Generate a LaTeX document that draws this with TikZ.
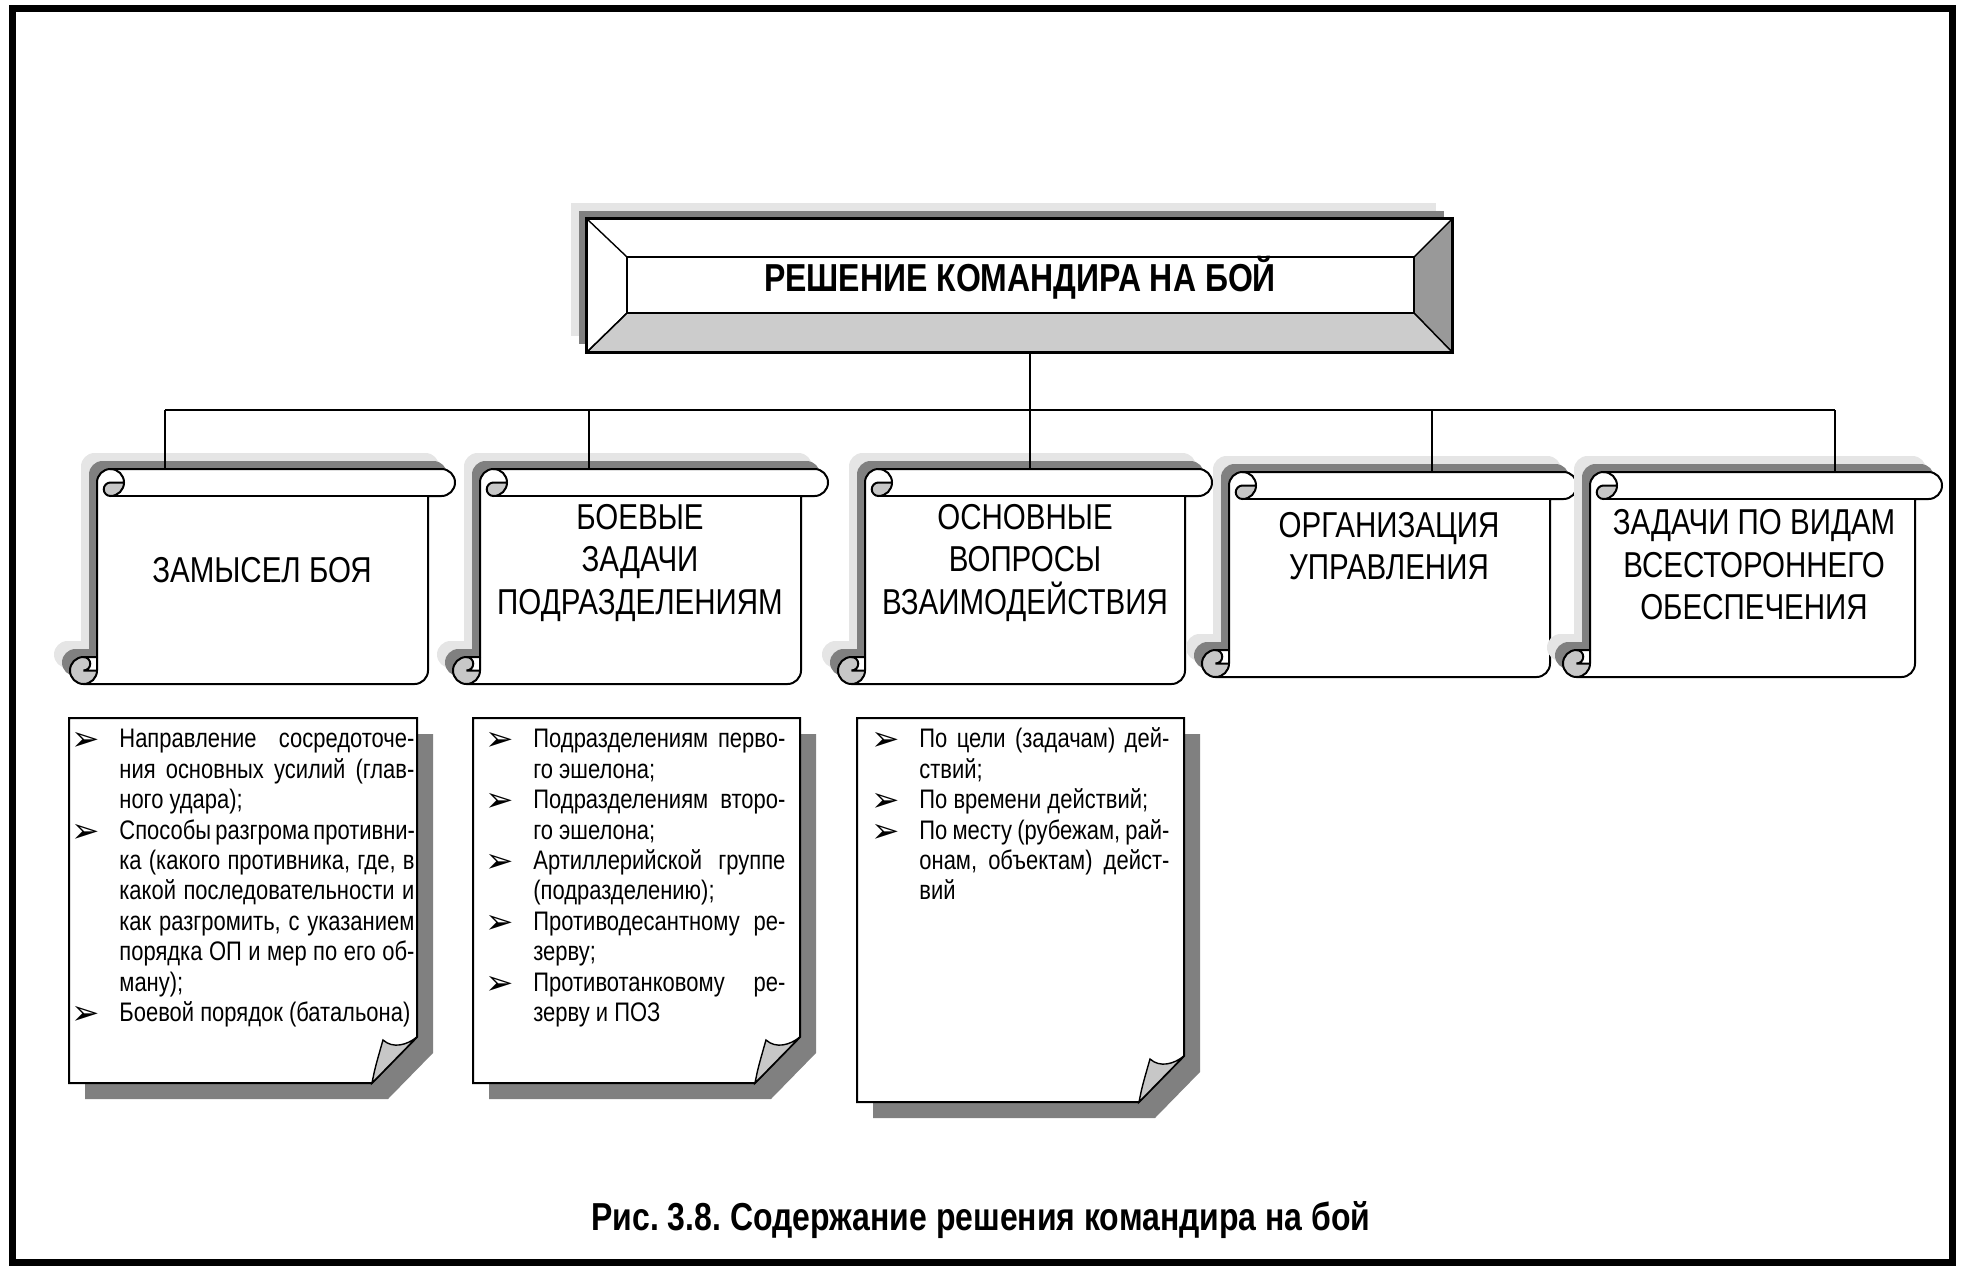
\documentclass[tikz,border=0pt]{standalone}
\usepackage{fontspec}
\setmainfont{Liberation Sans}[FakeStretch=0.82]
\newfontfamily\bulfont{DejaVu Sans}
\usetikzlibrary{fit}
\frenchspacing
\tikzset{
  frameline/.style={line width=3.5pt},
  outline/.style={line width=1pt},
  thinline/.style={line width=0.7pt},
  conn/.style={line width=0.8pt},
  shadelight/.style={fill=black!10},
  shadedark/.style={fill=black!50},
  curlfill/.style={fill=black!22},
  bevelR/.style={fill=black!40},
  bevelB/.style={fill=black!20},
  notetext/.style={anchor=north west, inner sep=0pt, align=justify, font=\notefont},
  scrolltext/.style={align=center, inner sep=0pt, font=\scrollfont},
  boldtext/.style={inner sep=0pt, font=\boldfont},
  boxname/.style={inner sep=0pt},
}
\newcommand\notefont{\fontsize{13.4}{15.2}\selectfont\frenchspacing}
\newcommand\scrollfont{\fontsize{18}{21.25}\selectfont}
\newcommand\boldfont{\bfseries\fontsize{19.5}{22}\selectfont\frenchspacing}
\newcommand\bul{\rule{0pt}{10.5pt}\makebox[24pt][l]{\raisebox{-1.5pt}{\bulfont\fontsize{17}{17}\selectfont ➢}}}
\newcommand\itm{\par\hangindent=24pt\hangafter=1\noindent\bul}
\newcommand\nsetup{\hyphenpenalty=10000\exhyphenpenalty=10000\tolerance=10000\parskip=0pt}
% scroll outline, local coordinates (y downward), uses \sW \sH \sXr \sXs \sYt \sYf
\newcommand\ScrollPath{(27,13.5) arc (180:270:13.5) -- (\sXr,0) arc (-90:90:13.5) -- (\sXs,27) -- (\sXs,\sYf) arc (0:90:13.5) -- (13.5,\sH) arc (90:270:13.5) -- (27,\sYt) -- cycle}
\newcommand\Scroll[5]{%
  \pgfmathsetmacro\sW{#3-#1}\pgfmathsetmacro\sH{#4-#2}%
  \pgfmathsetmacro\sXr{\sW-13.5}\pgfmathsetmacro\sXs{\sW-27}%
  \pgfmathsetmacro\sYt{\sH-27}\pgfmathsetmacro\sYf{\sH-13.5}%
  \begin{scope}[shift={(#1-16,#2-16)}]\fill[shadelight] \ScrollPath;\end{scope}
  \begin{scope}[shift={(#1-8,#2-8)}]\fill[shadedark] \ScrollPath;\end{scope}
  \begin{scope}[shift={(#1,#2)}]
    \fill[white] \ScrollPath;
    \fill[curlfill] (54,13.5) arc (0:90:13.5) arc (90:270:6.75) -- cycle;
    \fill[curlfill] (27,\sYf) arc (0:270:13.5) arc (270:450:6.75) -- cycle;
    \draw[outline, line join=round] (27,\sYt) -- (27,13.5) arc (180:270:13.5) -- (\sXr,0) arc (-90:90:13.5) -- (\sXs,27) -- (\sXs,\sYf) arc (0:90:13.5) -- (13.5,\sH) arc (90:270:13.5) -- cycle;
    \draw[outline] (40.5,0) arc (270:450:13.5) arc (90:270:6.75) -- (54,13.5);
    \draw[outline] (\sXs,27) -- (40.5,27);
    \draw[outline] (13.5,\sYt) arc (270:450:6.75) -- (27,\sYf);
    \draw[outline] (13.5,\sH) arc (90:0:13.5) -- (27,\sYt);
  \end{scope}
  \node[boxname, fit={(#1,#2) (#3,#4)}] (#5) {};
}
\newcommand\NoteBox[5]{%
  \fill[shadedark] (#1+16,#2+16) -- (#3+16,#2+16) -- (#3+16,#4-30) -- (#3-29,#4+16) -- (#1+16,#4+16) -- cycle;
  \node[boxname, fit={(#1,#2) (#3,#4)}] (#5) {};
  \draw[outline, fill=white] (#1,#2) -- (#3,#2) -- (#3,#4-46) -- (#3-45,#4) -- (#1,#4) -- cycle;
  \draw[thinline, curlfill] (#3-45,#4) .. controls (#3-42,#4-15) .. (#3-34,#4-43) .. controls (#3-24,#4-34) and (#3-10,#4-38) .. (#3,#4-46) -- cycle;
}
\begin{document}
\begin{tikzpicture}[x=0.5pt,y=-0.5pt]
\useasboundingbox (0,0) rectangle (1961,1270);
\draw[frameline] (12.5,8.5) rectangle (1952.5,1262);

% ---- main beveled box
\fill[shadelight] (571,203) rectangle (1436,336);
\fill[shadedark] (579,211) rectangle (1444,344);
\node[boxname, fit={(587,219) (1452,352)}] (main) {};
\fill[white] (main.north west) rectangle (main.south east);
\coordinate (iNW) at (627,257);
\coordinate (iNE) at (1414,257);
\coordinate (iSE) at (1414,313);
\coordinate (iSW) at (627,313);
\filldraw[bevelR, thinline] (main.north east) -- (iNE) -- (iSE) -- (main.south east) -- cycle;
\filldraw[bevelB, thinline] (main.south west) -- (iSW) -- (iSE) -- (main.south east) -- cycle;
\draw[thinline] (main.north west) -- (iNW) (main.south west) -- (iSW);
\draw[outline, fill=white] (iNW) rectangle (iSE);
\draw[line width=1.3pt] (main.north west) rectangle (main.south east);
\node[boldtext] (maintext) at (1020,278) {РЕШЕНИЕ КОМАНДИРА НА БОЙ};

% ---- scrolls
\Scroll{70}{469}{455}{684}{s1}
\Scroll{453}{469}{828}{684}{s2}
\Scroll{838}{469}{1212}{684}{s3}
\Scroll{1202}{472}{1577}{677}{s4}
\Scroll{1563}{472}{1942}{677}{s5}
\node[scrolltext] (s1t) at (262,570) {ЗАМЫСЕЛ БОЯ};
\node[scrolltext] (s2t) at (640,563) {БОЕВЫЕ\\ЗАДАЧИ\\ПОДРАЗДЕЛЕНИЯМ};
\node[scrolltext] (s3t) at (1025,563) {ОСНОВНЫЕ\\ВОПРОСЫ\\ВЗАИМОДЕЙСТВИЯ};
\node[scrolltext] (s4t) at (1389,546) {ОРГАНИЗАЦИЯ\\УПРАВЛЕНИЯ};
\node[scrolltext] (s5t) at (1754,565) {ЗАДАЧИ ПО ВИДАМ\\ВСЕСТОРОННЕГО\\ОБЕСПЕЧЕНИЯ};

% ---- connectors
\coordinate (b1) at (165,410);
\coordinate (b2) at (589,410);
\coordinate (b3) at (1030,410);
\coordinate (b4) at (1432,410);
\coordinate (b5) at (1835,410);
\draw[conn] (b3 |- main.south) -- (b3 |- s3.north);
\draw[conn] (b1) -- (b5);
\draw[conn] (b1) -- (b1 |- s1.north);
\draw[conn] (b2) -- (b2 |- s2.north);
\draw[conn] (b4) -- (b4 |- s4.north);
\draw[conn] (b5) -- (b5 |- s5.north);

% ---- notes
\NoteBox{69}{718}{417}{1083}{n1}
\NoteBox{473}{718}{800}{1083}{n2}
\NoteBox{857}{718}{1184}{1102}{n3}
\node[notetext, text width=171.5pt] (n1t) at (71,717) {\nsetup
\itm Направление~сосредоточе-\linebreak ния~основных~усилий~(глав-\linebreak ного~удара);
\itm Способы~разгрома~противни-\linebreak ка~(какого~противника,~где,~в\linebreak какой~последовательности~и\linebreak как~разгромить,~с~указанием\linebreak порядка~ОП~и~мер~по~его~об-\linebreak ману);
\itm Боевой~порядок~(батальона)\par};
\node[notetext, text width=150pt] (n2t) at (485,717) {\nsetup
\itm Подразделениям~перво-\linebreak го~эшелона;
\itm Подразделениям~второ-\linebreak го~эшелона;
\itm Артиллерийской~группе\linebreak (подразделению);
\itm Противодесантному~ре-\linebreak зерву;
\itm Противотанковому~ре-\linebreak зерву~и~ПОЗ\par};
\node[notetext, text width=149pt] (n3t) at (871,717) {\nsetup
\itm По~цели~(задачам)~дей-\linebreak ствий;
\itm По~времени~действий;
\itm По~месту~(рубежам,~рай-\linebreak онам,~объектам)~дейст-\linebreak вий\par};

% ---- caption
\node[boldtext] (cap) at (981,1220) {Рис. 3.8. Содержание решения командира на бой};
\end{tikzpicture}
\end{document}
